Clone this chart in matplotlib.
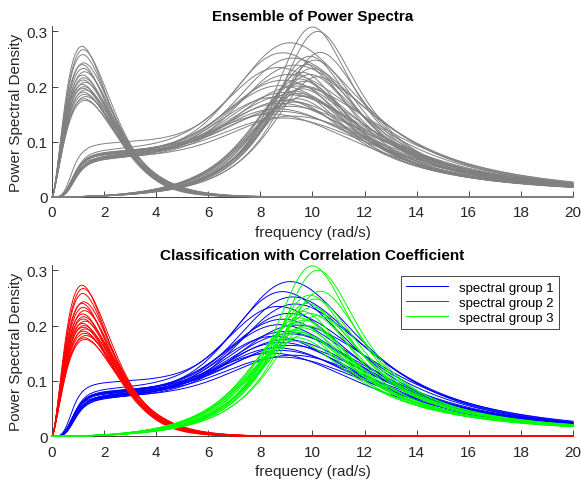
import numpy as np
import matplotlib
matplotlib.use('Agg')
import matplotlib.pyplot as plt

plt.rcParams['font.family'] = ['Liberation Sans', 'DejaVu Sans']

# spectral group 1 (blue): broad resonance plus a low-frequency shoulder
g1_peak_freq = [9.3, 9.0, 9.4, 9.5, 8.9, 9.3, 9.1, 9.6, 9.0, 9.2,
                9.4, 8.8, 9.3, 9.1, 9.5, 9.0, 9.2, 9.6, 8.9, 9.3]
g1_peak_amp = [0.255, 0.240, 0.232, 0.222, 0.210, 0.203, 0.190, 0.185, 0.180, 0.170,
               0.165, 0.160, 0.155, 0.150, 0.145, 0.140, 0.135, 0.130, 0.127, 0.124]
g1_damping = [0.42, 0.43, 0.44, 0.45, 0.46, 0.47, 0.48, 0.49, 0.49, 0.50,
              0.50, 0.51, 0.51, 0.52, 0.52, 0.53, 0.54, 0.54, 0.55, 0.56]
g1_shoulder = [0.098, 0.078, 0.082, 0.073, 0.086, 0.076, 0.080, 0.070, 0.078, 0.074,
               0.082, 0.069, 0.077, 0.072, 0.080, 0.070, 0.075, 0.071, 0.078, 0.073]
g1_knee = [0.80, 0.85, 0.90, 0.82, 0.88, 0.95, 0.86, 0.92, 0.84, 0.90,
           0.87, 0.93, 0.83, 0.89, 0.91, 0.85, 0.94, 0.88, 0.86, 0.92]

# spectral group 2 (red): low-frequency peak
g2_peak_freq = [1.15, 1.20, 1.18, 1.22, 1.16, 1.20, 1.25, 1.18, 1.22, 1.20,
                1.27, 1.17, 1.23, 1.20, 1.28, 1.21, 1.25, 1.30, 1.24, 1.27]
g2_peak_amp = [0.273, 0.267, 0.258, 0.243, 0.240, 0.233, 0.227, 0.221, 0.216, 0.212,
               0.208, 0.204, 0.200, 0.197, 0.194, 0.190, 0.186, 0.182, 0.178, 0.175]
g2_shape = [1.80, 1.75, 1.75, 1.70, 1.70, 1.68, 1.66, 1.65, 1.64, 1.62,
            1.62, 1.60, 1.60, 1.58, 1.58, 1.56, 1.55, 1.55, 1.53, 1.52]

# spectral group 3 (green): narrow peak near 10 rad/s
g3_peak_freq = [10.0, 10.2, 10.3, 9.9, 10.1, 9.8, 10.0, 9.6, 9.9, 10.2,
                9.5, 9.7, 9.4, 9.8, 9.6, 9.3, 9.5, 9.7, 9.4, 9.3]
g3_peak_amp = [0.308, 0.300, 0.262, 0.255, 0.248, 0.240, 0.233, 0.226, 0.222, 0.218,
               0.214, 0.210, 0.205, 0.200, 0.196, 0.192, 0.188, 0.183, 0.178, 0.172]
g3_damping = [0.20, 0.20, 0.21, 0.22, 0.22, 0.22, 0.23, 0.23, 0.24, 0.23,
              0.25, 0.24, 0.26, 0.25, 0.26, 0.27, 0.27, 0.26, 0.28, 0.29]

group_labels = ['spectral group 1', 'spectral group 2', 'spectral group 3']
group_colors = ['#0000ff', '#ff0000', '#00ff00']

w = np.linspace(0, 20, 801)


def bandpass(w, w0, zeta):
    r = w / w0
    return 4 * zeta**2 * r**2 / ((1 - r**2)**2 + 4 * zeta**2 * r**2)


def group1(i):
    r = w / g1_knee[i]
    hp = r**4 / (1 + r**4)
    lp = 1 / (1 + (w / 7.0)**4)
    peak = bandpass(w, g1_peak_freq[i], g1_damping[i])**1.5
    return g1_peak_amp[i] * peak + g1_shoulder[i] * hp * lp


def group2(i):
    k = g2_shape[i]
    r = w / g2_peak_freq[i]
    return g2_peak_amp[i] * r**k * np.exp(k * (1 - r))


def group3(i):
    return g3_peak_amp[i] * bandpass(w, g3_peak_freq[i], g3_damping[i])


spectra = [[group1(i) for i in range(len(g1_peak_amp))],
           [group2(i) for i in range(len(g2_peak_amp))],
           [group3(i) for i in range(len(g3_peak_amp))]]

fig = plt.figure(figsize=(5.82, 4.81), dpi=100)
ax1 = fig.add_axes([0.0893, 0.5884, 0.8952, 0.3556])
ax2 = fig.add_axes([0.0893, 0.0908, 0.8952, 0.3568])

for grp in spectra:
    for s in grp:
        ax1.plot(w, s, color='#808080', linewidth=0.7, clip_on=False, zorder=3)

handles = []
for k, grp in enumerate(spectra):
    for j, s in enumerate(grp):
        line, = ax2.plot(w, s, color=group_colors[k], linewidth=0.7,
                         clip_on=False, zorder=3)
        if j == 0:
            handles.append(line)

ax1.set_title('Ensemble of Power Spectra', fontsize=11, fontweight='bold', pad=4)
ax2.set_title('Classification with Correlation Coefficient', fontsize=11, fontweight='bold', pad=4)

for ax in (ax1, ax2):
    ax.set_xlim(0, 20)
    ax.set_ylim(0, 0.31)
    ax.set_xticks(np.arange(0, 21, 2))
    ax.set_yticks([0, 0.1, 0.2, 0.3])
    ax.set_yticklabels(['0', '0.1', '0.2', '0.3'])
    ax.set_xlabel('frequency (rad/s)', fontsize=11, color='#262626', labelpad=4)
    ax.set_ylabel('Power Spectral Density', fontsize=11, color='#262626', labelpad=3)
    ax.spines['top'].set_visible(False)
    ax.spines['right'].set_visible(False)
    for sp in ('left', 'bottom'):
        ax.spines[sp].set_color('#262626')
        ax.spines[sp].set_linewidth(0.6)
        ax.spines[sp].set_zorder(1)
    ax.tick_params(direction='in', length=4, width=0.6, colors='#262626',
                   labelsize=11, pad=3)
    ax.tick_params(axis='x', pad=6)

leg = ax2.legend(handles, group_labels, loc='upper right', fontsize=9.5,
                 handlelength=3.2, labelspacing=0.2, borderpad=0.4,
                 fancybox=False, framealpha=1, bbox_to_anchor=(0.985, 0.97))
leg.get_frame().set_edgecolor('#262626')
leg.get_frame().set_linewidth(0.6)
leg.set_zorder(5)

fig.savefig('out.png', dpi=100)
